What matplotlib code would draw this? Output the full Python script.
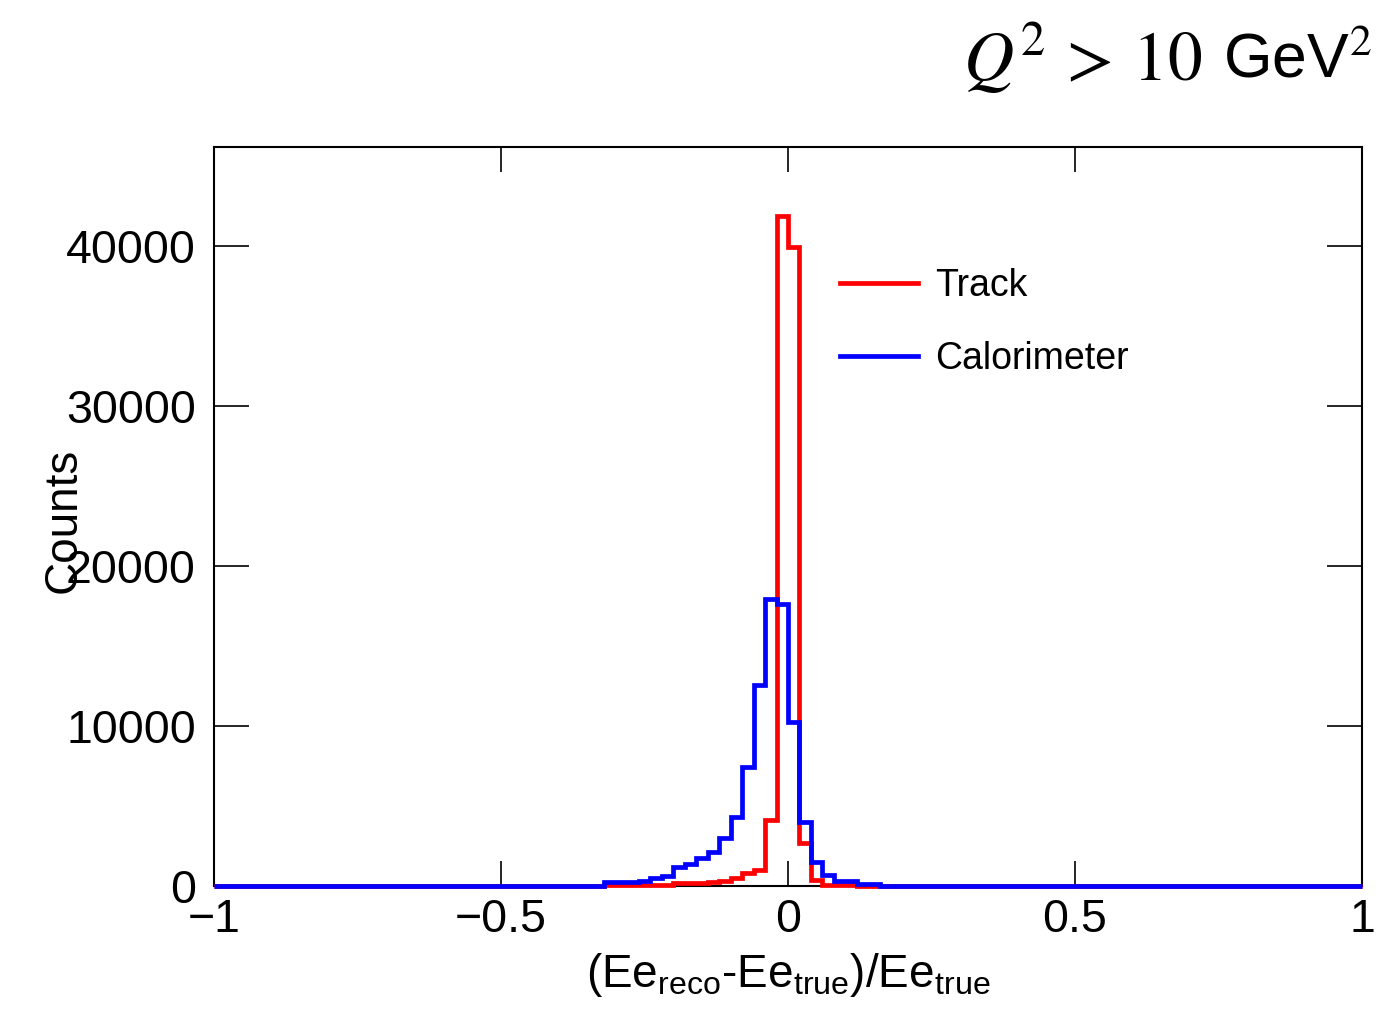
import numpy as np
import matplotlib
matplotlib.use('Agg')
import matplotlib.pyplot as plt

plt.rcParams['font.family'] = ['Liberation Sans', 'DejaVu Sans']
plt.rcParams['mathtext.fontset'] = 'custom'
plt.rcParams['mathtext.rm'] = 'Liberation Sans'
plt.rcParams['mathtext.it'] = 'Liberation Sans:italic'
plt.rcParams['mathtext.bf'] = 'Liberation Sans:bold'

# binning: 100 bins over [-1, 1], only the filled region is listed
x_min, x_max, n_bins = -1.0, 1.0, 100
first_bin = -0.32   # lower edge of the first listed bin

# counts per bin from -0.32 to 0.16 (width 0.02)
track = [60, 60, 60, 60, 60, 60, 170, 170, 170, 250, 330, 480,
         790, 1000, 4100, 41900, 39950, 2680, 350, 60, 60, 60, 0, 0]
calo = [230, 240, 260, 330, 480, 620, 1200, 1400, 1730, 2140, 2975, 4320,
        7440, 12540, 17950, 17640, 10250, 4010, 1500, 690, 310, 310, 150, 150]

edges = np.linspace(x_min, x_max, n_bins + 1)
start = int(round((first_bin - x_min) / 0.02))

def full(vals):
    h = np.zeros(n_bins)
    h[start:start + len(vals)] = vals
    return h

fig = plt.figure(figsize=(13.82, 10.36), dpi=100)
ax = fig.add_axes([214 / 1382, 1 - 886 / 1036, 1148 / 1382, 739 / 1036])

ax.stairs(full(track), edges, color='#ff0000', lw=3.4, label='Track', clip_on=False, zorder=3)
ax.stairs(full(calo), edges, color='#0000ff', lw=3.4, label='Calorimeter', clip_on=False, zorder=4)

ax.set_xlim(-1, 1)
ax.set_ylim(0, 46200)
ax.set_xticks([-1, -0.5, 0, 0.5, 1])
ax.set_xticklabels(['\u22121', '\u22120.5', '0', '0.5', '1'])
ax.set_yticks([0, 10000, 20000, 30000, 40000])
ax.set_yticklabels(['0', '10000', '20000', '30000', '40000'])

for s in ax.spines.values():
    s.set_linewidth(1.5)
ax.tick_params(axis='both', direction='in', top=True, right=True, width=1.2,
               labelsize=33.5, colors='black')
ax.tick_params(axis='x', length=18, pad=9)
ax.tick_params(axis='y', length=25, pad=13)

ax.set_ylabel('Counts', fontsize=33)
ax.yaxis.set_label_coords(-0.112, 0.495)
ax.set_xlabel(r'(Ee$_{\rm reco}$-Ee$_{\rm true}$)/Ee$_{\rm true}$', fontsize=33, labelpad=6)

ax.legend(loc='upper left', bbox_to_anchor=(0.545, 0.836), frameon=False,
          fontsize=27, handlelength=2.1, handletextpad=0.45, labelspacing=0.99,
          borderpad=0, borderaxespad=0)

# title: Q^2 > 10 in a serif math face, GeV^2 in sans
fig.text(1372 / 1382, 1 - 61 / 1036, r'GeV$^2$', fontsize=45,
         ha='right', va='center', math_fontfamily='stix')
fig.text(1202 / 1382, 1 - 58 / 1036, r'$Q^2\,>\,10$', fontsize=50,
         ha='right', va='center', math_fontfamily='stix')

fig.savefig('out.png', dpi=100)
